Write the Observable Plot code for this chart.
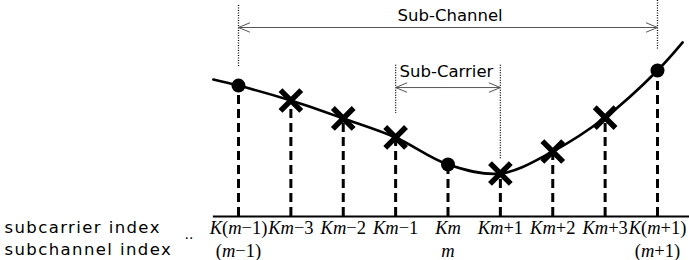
<!DOCTYPE html>
<html>
<head>
<meta charset="utf-8">
<script src="https://cdn.jsdelivr.net/npm/d3@7"></script>
<script src="https://cdn.jsdelivr.net/npm/@observablehq/plot@0.6"></script>
<style>
  html, body { margin: 0; padding: 0; background: #fff; }
  svg { display: block; }
</style>
</head>
<body>
<div id="chart"></div>
<script>
// ---- data ----
const positions = [0, 1, 2, 3, 4, 5, 6, 7, 8];
const subcarrierLabels = ["K(m−1)", "Km−3", "Km−2", "Km−1", "Km", "Km+1", "Km+2", "Km+3", "K(m+1)"];
const subchannelLabels = ["(m−1)", "", "", "", "m", "", "", "", "(m+1)"];
const gain = [6.06, 5.37, 4.54, 3.66, 2.41, 1.99, 3.01, 4.58, 6.76];
const markerKind = ["pilot", "data", "data", "data", "pilot", "data", "data", "data", "pilot"];
const curveX = [-0.48, 0, 1, 2, 3, 4, 5, 6, 7, 8, 8.48];
const curveGain = [6.34, 6.06, 5.37, 4.54, 3.66, 2.41, 1.99, 3.01, 4.58, 6.76, 8.06];
const rowLabels = ["subcarrier index", "subchannel index"];

const pts = positions.map((p, i) => ({p, g: gain[i], kind: markerKind[i], top: subcarrierLabels[i], bottom: subchannelLabels[i]}));
const curve = curveX.map((x, i) => ({x, g: curveGain[i]}));

const sansFont = "DejaVu Sans, sans-serif";
const serifFont = "Liberation Serif, Times New Roman, serif";
const dotted = {stroke: "black", strokeWidth: 1.3, strokeDasharray: "1,1.5"};

const plot = Plot.plot({
  width: 689,
  height: 260,
  marginTop: 0, marginRight: 0, marginBottom: 0, marginLeft: 0,
  x: {domain: [0, 8], range: [238, 657], axis: null},
  y: {domain: [0, 10], range: [216, 0], axis: null},
  marks: [
    // vertical dashed drops
    Plot.ruleX(pts, {x: "p", y1: 0, y2: "g", stroke: "black", strokeWidth: 3, strokeDasharray: "9,5"}),
    // axis line
    Plot.ruleY([0], {x1: -0.48, x2: 8.7, stroke: "black", strokeWidth: 2}),
    // channel response curve
    Plot.line(curve, {x: "x", y: "g", curve: "catmull-rom", stroke: "black", strokeWidth: 2.6}),
    // dotted guides: sub-channel
    Plot.ruleX([0], {x: d => d, y1: 9.77, y2: 6.9, ...dotted}),
    Plot.ruleX([8], {x: d => d, y1: 10, y2: 7.73, ...dotted}),
    // dotted guides: sub-carrier
    Plot.ruleX([3], {x: d => d, y1: 7.0, y2: 4.77, ...dotted}),
    Plot.ruleX([5], {x: d => d, y1: 7.0, y2: 2.6, ...dotted}),
    // span arrows
    Plot.arrow([[4, 0], [4, 8]], {x1: d => d[0], x2: d => d[1], y1: 8.75, y2: 8.75, stroke: "#555", strokeWidth: 1, headLength: 18, headAngle: 45}),
    Plot.arrow([[4, 3], [4, 5]], {x1: d => d[0], x2: d => d[1], y1: 5.97, y2: 5.97, stroke: "#555", strokeWidth: 1, headLength: 18, headAngle: 45}),
    Plot.text(["Sub-Channel"], {x: 4.04, y: 9.07, text: d => d, lineAnchor: "bottom", fontFamily: sansFont, fontSize: 16.5, fill: "black"}),
    Plot.text(["Sub-Carrier"], {x: 3.97, y: 6.44, text: d => d, lineAnchor: "bottom", fontFamily: sansFont, fontSize: 16.5, fill: "black"}),
    // markers
    Plot.dot(pts.filter(d => d.kind === "pilot"), {x: "p", y: "g", r: 7, fill: "black", stroke: "none", symbol: "circle"}),
    Plot.dot(pts.filter(d => d.kind === "data"), {x: "p", y: "g", r: 9.5, stroke: "black", strokeWidth: 5.5, symbol: "times"}),
    // tick labels
    Plot.text(pts, {x: "p", y: 0, dy: 17, text: "top", lineAnchor: "bottom", fontFamily: serifFont, fontSize: 18.5, fill: "black"}),
    Plot.text(pts, {x: "p", y: 0, dy: 40, text: "bottom", lineAnchor: "bottom", fontFamily: serifFont, fontSize: 18.5, fill: "black"}),
    // row labels
    Plot.text([rowLabels[0]], {frameAnchor: "left", y: 0, dx: 4, dy: 16, text: d => d, textAnchor: "start", lineAnchor: "bottom", fontFamily: sansFont, fontSize: 16.5, fill: "black"}),
    Plot.text([rowLabels[1]], {frameAnchor: "left", y: 0, dx: 4, dy: 38, text: d => d, textAnchor: "start", lineAnchor: "bottom", fontFamily: sansFont, fontSize: 16.5, fill: "black"}),
    Plot.text([".."], {frameAnchor: "left", y: 0, dx: 184, dy: 22, text: d => d, textAnchor: "start", lineAnchor: "bottom", fontFamily: sansFont, fontSize: 14, fill: "black"})
  ]
});

const tickSet = new Set([...subcarrierLabels, ...subchannelLabels].filter(s => s));
const rowSet = new Set(rowLabels);
d3.select(plot).selectAll("text").each(function() {
  const s = this.textContent;
  if (rowSet.has(s)) {
    this.style.letterSpacing = "1.4px";
    return;
  }
  if (!tickSet.has(s)) return;
  // italicise the variables K and m
  this.textContent = "";
  const runs = [];
  for (const ch of s) {
    const it = ch === "K" || ch === "m";
    if (runs.length && runs[runs.length - 1].it === it) runs[runs.length - 1].s += ch;
    else runs.push({it, s: ch});
  }
  const sel = d3.select(this);
  for (const r of runs) {
    const ts = sel.append("tspan").text(r.s);
    if (r.it) ts.attr("font-style", "italic");
  }
});

document.getElementById("chart").appendChild(plot);
</script>
</body>
</html>
